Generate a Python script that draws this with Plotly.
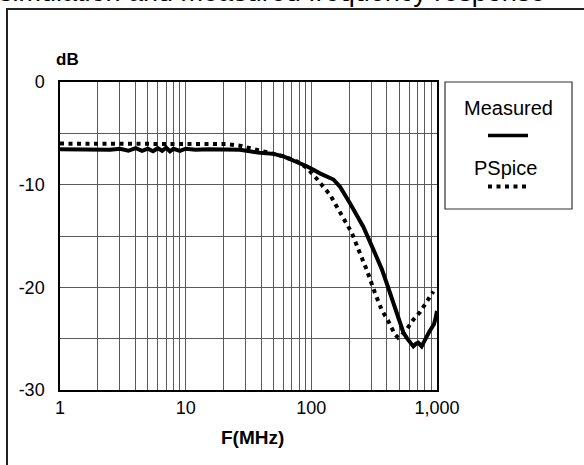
import plotly.graph_objects as go

# Frequency response: measured vs. PSpice simulation (dB vs. MHz)
series_names = ["Measured", "PSpice"]

measured_freq_mhz = [1, 1.5, 2, 2.5, 3, 3.5, 4, 4.5, 5, 5.5, 6, 6.5, 7, 7.5, 8, 9,
                     10, 12, 15, 20, 27, 39, 50, 60, 76, 92, 104, 117, 150, 169,
                     203, 259, 311, 331, 363, 398, 449, 492, 540, 580, 609, 648,
                     680, 710, 755, 790, 828, 870, 907, 946, 975, 1000]
measured_db = [-6.55, -6.6, -6.55, -6.6, -6.5, -6.7, -6.45, -6.7, -6.5, -6.75,
               -6.45, -6.7, -6.4, -6.75, -6.5, -6.7, -6.5, -6.6, -6.55, -6.6,
               -6.6, -6.9, -7.0, -7.25, -7.75, -8.2, -8.55, -8.9, -9.5, -10.2,
               -11.8, -14.1, -16.3, -17.0, -18.2, -19.6, -21.4, -22.8, -24.4,
               -25.0, -25.3, -25.75, -25.5, -25.4, -25.75, -25.2, -24.8, -24.3,
               -24.0, -23.6, -23.0, -22.3]

pspice_freq_mhz = [1, 2, 5, 10, 21, 27, 33, 39, 50, 60, 76, 92, 103, 110, 141,
                   174, 210, 244, 276, 321, 363, 410, 463, 490, 520, 574, 648,
                   733, 828, 935]
pspice_db = [-6.0, -6.0, -6.0, -6.0, -6.05, -6.2, -6.45, -6.6, -7.0, -7.25,
             -7.7, -8.35, -9.1, -9.4, -11.0, -12.9, -14.7, -16.7, -18.3,
             -20.55, -22.2, -23.3, -24.6, -24.9, -24.7, -24.1, -23.15, -22.4,
             -21.4, -20.4]

x_tick_vals = [1, 10, 100, 1000]
x_tick_text = ["1", "10", "100", "1,000"]
x_minor_vals = [m * d for d in (1, 10, 100) for m in range(2, 10)]
y_tick_vals = [-30, -20, -10, 0]
y_tick_text = ["-30", "-20", "-10", "0"]

title_text = "simulation and measured frequency response"
x_title = "F(MHz)"
y_title = "dB"

W, H = 584, 465
ML, MR, MT, MB = 60, 147, 82, 75
PW, PH = W - ML - MR, H - MT - MB


def px(x):
    return (x - ML) / PW


def py(y):
    return 1 - (y - MT) / PH


FONT = "Liberation Sans, Arial, Helvetica, sans-serif"
GRID = "#5a5a5a"

fig = go.Figure()
fig.add_trace(go.Scatter(x=measured_freq_mhz, y=measured_db, mode="lines",
                         name=series_names[0],
                         line=dict(color="black", width=4)))
fig.add_trace(go.Scatter(x=pspice_freq_mhz, y=pspice_db, mode="lines",
                         name=series_names[1],
                         line=dict(color="black", width=4, dash="4px,4.5px")))

fig.update_layout(
    width=W, height=H, autosize=False,
    margin=dict(l=ML, r=MR, t=MT, b=MB, pad=0),
    paper_bgcolor="white", plot_bgcolor="white",
    showlegend=False,
    font=dict(family=FONT, color="black"),
)

fig.update_xaxes(
    type="log", range=[0, 3],
    tickvals=x_tick_vals, ticktext=x_tick_text,
    tickfont=dict(size=18, family=FONT),
    ticks="", ticklabelstandoff=1,
    showgrid=True, gridcolor=GRID, gridwidth=1,
    minor=dict(tickvals=x_minor_vals, showgrid=True, gridcolor=GRID,
               gridwidth=1, ticks=""),
    showline=True, linecolor="black", linewidth=1.5, mirror=True,
    zeroline=False,
)
fig.update_yaxes(
    range=[-30, 0],
    tickvals=y_tick_vals, ticktext=y_tick_text,
    tickfont=dict(size=18, family=FONT),
    ticks="", ticklabelstandoff=10,
    showgrid=True, gridcolor=GRID, gridwidth=1,
    minor=dict(dtick=5, showgrid=True, gridcolor=GRID, gridwidth=1, ticks=""),
    showline=True, linecolor="black", linewidth=1.5, mirror=True,
    zeroline=False,
)

# outer frame (extends past the right and bottom edges of the page)
fig.add_shape(type="rect", xref="paper", yref="paper",
              x0=px(7), x1=px(640), y0=py(520), y1=py(9),
              line=dict(color="#222222", width=2), fillcolor="rgba(0,0,0,0)",
              layer="above")

# legend box with text above each line sample
fig.add_shape(type="rect", xref="paper", yref="paper",
              x0=px(445), x1=px(572), y0=py(209), y1=py(82),
              line=dict(color="#333333", width=1.2), fillcolor="white")
fig.add_shape(type="line", xref="paper", yref="paper",
              x0=px(488), x1=px(528), y0=py(135.5), y1=py(135.5),
              line=dict(color="black", width=3.5))
fig.add_shape(type="line", xref="paper", yref="paper",
              x0=px(488), x1=px(528), y0=py(186.5), y1=py(186.5),
              line=dict(color="black", width=4, dash="4px,4.5px"))

annotations = [
    dict(text=series_names[0], x=px(508.5), y=py(108), size=20),
    dict(text=series_names[1], x=px(505), y=py(168), size=20),
    dict(text="<b>%s</b>" % y_title, x=px(67.5), y=py(59), size=17),
    dict(text="<b>%s</b>" % x_title, x=px(252), y=py(437), size=19),
]
for a in annotations:
    fig.add_annotation(text=a["text"], xref="paper", yref="paper",
                       x=a["x"], y=a["y"], xanchor="center", yanchor="middle",
                       showarrow=False, font=dict(size=a["size"], family=FONT,
                                                  color="black"))

# page title, partly above the top edge
fig.add_annotation(text=title_text, xref="paper", yref="paper",
                   x=px(-3), y=py(-7.5), xanchor="left", yanchor="middle",
                   showarrow=False,
                   font=dict(size=27, family=FONT, color="black"))

fig.write_html("out.html", config=dict(displayModeBar=False))
